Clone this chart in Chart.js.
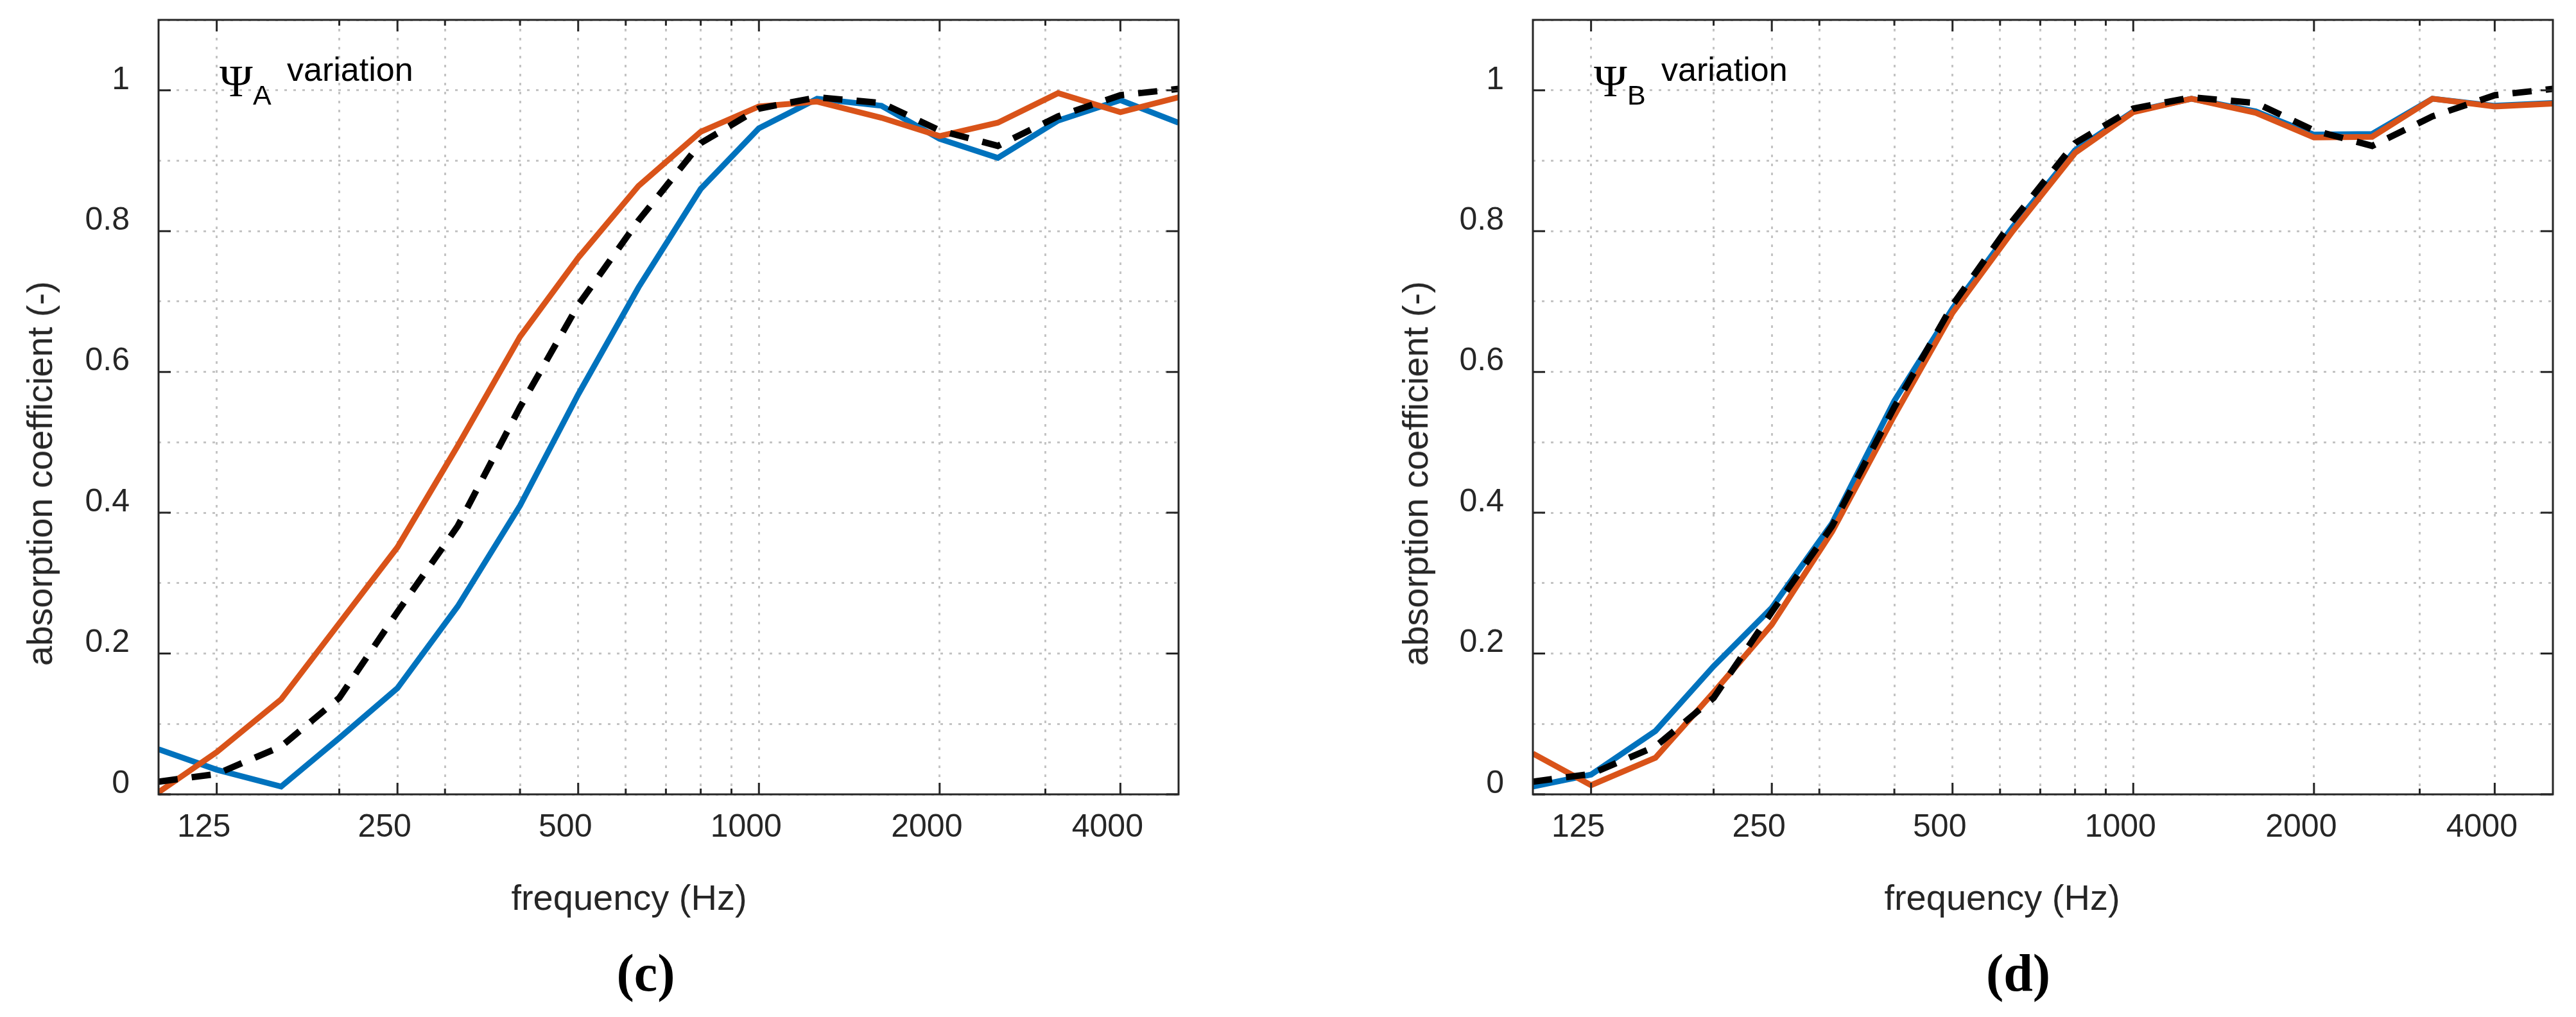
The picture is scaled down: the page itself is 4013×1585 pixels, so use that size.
<!DOCTYPE html>
<html>
<head>
<meta charset="utf-8">
<script src="https://cdn.jsdelivr.net/npm/chart.js@4.4.1/dist/chart.umd.min.js"></script>
<style>
  html, body { margin: 0; padding: 0; background: #fff; }
  body { width: 4013px; height: 1585px; position: relative; overflow: hidden;
         font-family: "Liberation Sans", Arial, sans-serif; color: #262626; }
  .panel { position: absolute; top: 0; height: 1585px; }
  .panel canvas { position: absolute; left: 0; top: 0; }
  .txt { position: absolute; white-space: nowrap; }
  .ylab { font-size: 56px; line-height: 56px; transform: translate(-50%, -50%) rotate(-90deg); }
  .xlab { font-size: 56px; line-height: 56px; transform: translateX(-50%); }
  .cap { font-family: "Liberation Serif", "Times New Roman", serif; font-weight: bold;
         font-size: 82px; line-height: 82px; color: #000; transform: translateX(-50%); }
  .psi { font-family: "Liberation Serif", "Times New Roman", serif; font-size: 70px; line-height: 70px; color: #000; }
  .sub { font-size: 43px; line-height: 43px; color: #000; }
  .var { font-size: 52px; line-height: 52px; color: #000; }
</style>
</head>
<body>

<div class="panel" style="left:0;width:2141px">
  <canvas id="chartC" width="2141" height="1585"></canvas>
  <div class="txt ylab" style="left:62px;top:738px">absorption coefficient (-)</div>
  <div class="txt xlab" style="left:980px;top:1371px">frequency (Hz)</div>
  <div class="txt cap" style="left:1006px;top:1476px">(c)</div>
  <div class="txt psi" style="left:342px;top:92px">Ψ</div>
  <div class="txt sub" style="left:394px;top:127px">A</div>
  <div class="txt var" style="left:447px;top:82px">variation</div>
</div>

<div class="panel" style="left:2141px;width:1872px">
  <canvas id="chartD" width="1872" height="1585"></canvas>
  <div class="txt ylab" style="left:64px;top:738px">absorption coefficient (-)</div>
  <div class="txt xlab" style="left:978px;top:1371px">frequency (Hz)</div>
  <div class="txt cap" style="left:1003px;top:1476px">(d)</div>
  <div class="txt psi" style="left:342px;top:92px">Ψ</div>
  <div class="txt sub" style="left:394px;top:127px">B</div>
  <div class="txt var" style="left:447px;top:82px">variation</div>
</div>

<script>
// one-third octave band centres (Hz)
const bands = [100, 125, 160, 200, 250, 315, 400, 500, 630, 800, 1000, 1250, 1600, 2000, 2500, 3150, 4000, 5000];

// panel (c): Psi_A variation
const blueC   = [0.064, 0.035, 0.011, 0.080, 0.151, 0.267, 0.410, 0.568, 0.720, 0.860, 0.946, 0.988, 0.978, 0.931, 0.904, 0.957, 0.986, 0.954];
const orangeC = [0.003, 0.060, 0.135, 0.243, 0.351, 0.495, 0.650, 0.762, 0.864, 0.941, 0.977, 0.984, 0.961, 0.935, 0.954, 0.996, 0.969, 0.990];

// panel (d): Psi_B variation
const blueD   = [0.011, 0.028, 0.090, 0.182, 0.265, 0.385, 0.559, 0.690, 0.806, 0.915, 0.970, 0.988, 0.970, 0.937, 0.938, 0.988, 0.978, 0.982];
const orangeD = [0.058, 0.013, 0.052, 0.145, 0.241, 0.373, 0.538, 0.684, 0.800, 0.911, 0.969, 0.988, 0.968, 0.933, 0.934, 0.988, 0.977, 0.981];

// reference curve (black dashed), same in both panels
const reference = [0.018, 0.029, 0.068, 0.137, 0.259, 0.381, 0.550, 0.695, 0.815, 0.925, 0.974, 0.990, 0.982, 0.943, 0.921, 0.963, 0.993, 1.002];

// axis ticks
const xTicks = [125, 200, 250, 300, 400, 500, 600, 700, 800, 900, 1000, 2000, 3000, 4000];
const xLabels = [125, 250, 500, 1000, 2000, 4000];
const yTicks = Array.from({ length: 23 }, (_, i) => i * 5 / 100);
const yLabels = [0, 0.2, 0.4, 0.6, 0.8, 1];

const AXIS = '#262626';
const BLUE = '#0072BD';
const ORANGE = '#D95319';

const toPoints = vals => bands.map((f, i) => ({ x: f, y: vals[i] }));

// MATLAB style box with inward ticks on all four sides
const frame = {
    id: 'frame',
    afterDatasetsDraw(chart) {
        const { ctx, chartArea: a, scales: { x, y } } = chart;
        ctx.save();
        ctx.strokeStyle = AXIS;
        ctx.lineWidth = 3;
        ctx.beginPath();
        xTicks.forEach(v => {
            const len = xLabels.includes(v) ? 18 : 9;
            const px = x.getPixelForValue(v);
            ctx.moveTo(px, a.bottom); ctx.lineTo(px, a.bottom - len);
            ctx.moveTo(px, a.top); ctx.lineTo(px, a.top + len);
        });
        yLabels.forEach(v => {
            const py = y.getPixelForValue(v);
            ctx.moveTo(a.left, py); ctx.lineTo(a.left + 19, py);
            ctx.moveTo(a.right, py); ctx.lineTo(a.right - 19, py);
        });
        ctx.stroke();
        ctx.strokeRect(a.left, a.top, a.right - a.left, a.bottom - a.top);
        ctx.restore();
    }
};

const makeChart = (canvasId, blue, orange, padRight) => {
    const canvas = document.getElementById(canvasId).getContext('2d');

    new Chart(canvas, {
        type: 'line',
        data: {
            datasets: [
                { label: 'reference', data: toPoints(reference), borderColor: '#000', borderWidth: 10,
                  borderDash: [30, 22], order: 0 },
                { label: 'variation 2', data: toPoints(orange), borderColor: ORANGE, borderWidth: 9, order: 1 },
                { label: 'variation 1', data: toPoints(blue), borderColor: BLUE, borderWidth: 9, order: 2 }
            ]
        },
        options: {
            responsive: false,
            animation: false,
            devicePixelRatio: 1,
            layout: { padding: { left: 0, top: 31, right: padRight, bottom: 0 } },
            elements: { point: { radius: 0 }, line: { tension: 0, fill: false } },
            plugins: { legend: { display: false }, tooltip: { enabled: false } },
            scales: {
                x: {
                    type: 'logarithmic',
                    min: 100,
                    max: 5000,
                    afterBuildTicks: s => { s.ticks = xTicks.map(v => ({ value: v })); },
                    afterFit: s => { s.height = 347; s.paddingLeft = 0; s.paddingRight = 0; },
                    ticks: {
                        autoSkip: false,
                        maxRotation: 0,
                        padding: 22,
                        labelOffset: -20,
                        color: AXIS,
                        font: { family: 'Liberation Sans', size: 50 },
                        callback: v => (xLabels.includes(v) ? String(v) : '')
                    },
                    grid: { color: '#c4c4c4', lineWidth: 3, drawTicks: false },
                    border: { display: false, dash: [4, 10] }
                },
                y: {
                    type: 'linear',
                    min: 0,
                    max: 1.1,
                    afterBuildTicks: s => { s.ticks = yTicks.map(v => ({ value: v })); },
                    afterFit: s => { s.width = 247; s.paddingTop = 0; s.paddingBottom = 0; },
                    ticks: {
                        padding: 45,
                        labelOffset: -16,
                        color: AXIS,
                        font: { family: 'Liberation Sans', size: 50 },
                        callback: v => {
                            const r = Math.round(v * 100);
                            return (r % 20 === 0 && r <= 100) ? String(r / 100) : '';
                        }
                    },
                    grid: { color: '#c4c4c4', lineWidth: 3, drawTicks: false },
                    border: { display: false, dash: [4, 10] }
                }
            }
        },
        plugins: [frame]
    });
};

makeChart('chartC', blueC, orangeC, 2141 - 1836);
makeChart('chartD', blueD, orangeD, 1872 - 1836);
</script>
</body>
</html>
